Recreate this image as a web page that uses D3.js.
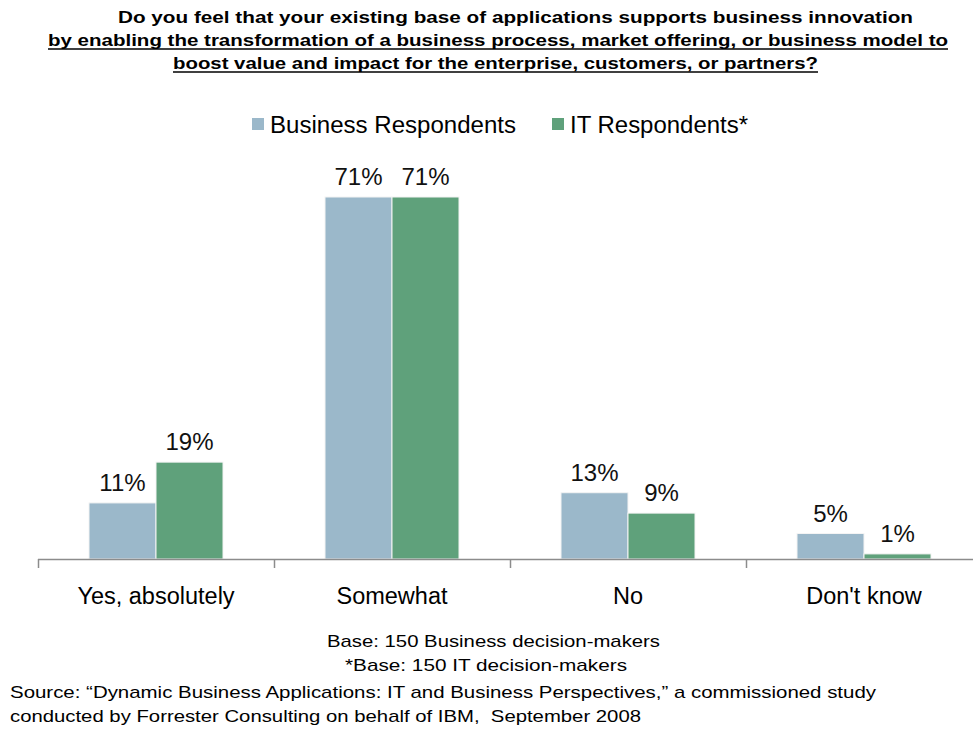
<!DOCTYPE html>
<html lang="en">
<head>
<meta charset="UTF-8">
<title>Applications supporting business innovation</title>
<script src="https://d3js.org/d3.v7.min.js"></script>
<style>
    body { margin: 0; background: #fff; }
    svg { font-family: "Liberation Sans", Arial, sans-serif; display: block; }
    .bar { stroke: #f4f4f4; stroke-width: 1; }
</style>
</head>
<body>
<svg width="973" height="730"></svg>
<script>
    // data
    const categories = ["Yes, absolutely", "Somewhat", "No", "Don't know"];
    const series = ["Business Respondents", "IT Respondents*"];
    const business = [11, 71, 13, 5];
    const it = [19, 71, 9, 1];
    const colors = ["#9bb8ca", "#5fa17b"];

    const titleLines = [
        "Do you feel that your existing base of applications supports business innovation",
        "by enabling the transformation of a business process, market offering, or business model to",
        "boost value and impact for the enterprise, customers, or partners?"
    ];
    const notes = ["Base: 150 Business decision-makers", "*Base: 150 IT decision-makers"];
    const source = [
        "Source: \u201cDynamic Business Applications: IT and Business Perspectives,\u201d a commissioned study",
        "conducted by Forrester Consulting on behalf of IBM,  September 2008"
    ];

    const svg = d3.select("svg");
    const baseY = 559;

    const x = d3.scaleBand().domain(categories).range([38, 982]).paddingInner(0).paddingOuter(0);
    const xs = d3.scaleBand().domain(series).range([0, 134]);
    const y = d3.scaleLinear().domain([0, 71]).range([baseY, 197]);

    // title
    const titleSpec = [
        {x0: 118, w: 795, y: 23, u: false},
        {x0: 48, w: 900, y: 46, u: true},
        {x0: 173, w: 645, y: 69, u: true}
    ];
    titleLines.forEach((t, i) => {
        const s = titleSpec[i];
        svg.append("text")
            .attr("x", s.x0).attr("y", s.y)
            .attr("font-size", 17).attr("font-weight", "bold")
            .attr("textLength", s.w).attr("lengthAdjust", "spacingAndGlyphs")
            .text(t);
        if (s.u) {
            svg.append("line")
                .attr("x1", s.x0).attr("x2", s.x0 + s.w)
                .attr("y1", s.y + 3).attr("y2", s.y + 3)
                .attr("stroke", "#000").attr("stroke-width", 1.5);
        }
    });

    // legend
    const legendX = [252, 552];
    const legendW = [246, 178];
    const lg = svg.append("g");
    series.forEach((s, i) => {
        lg.append("rect")
            .attr("x", legendX[i]).attr("y", 118)
            .attr("width", 12).attr("height", 12)
            .attr("fill", colors[i]);
        lg.append("text")
            .attr("x", legendX[i] + 18).attr("y", 133)
            .attr("font-size", 23.5)
            .attr("textLength", legendW[i]).attr("lengthAdjust", "spacingAndGlyphs")
            .text(s);
    });

    // bars
    const rows = categories.map((c, i) => ({cat: c, vals: [business[i], it[i]]}));
    const groups = svg.selectAll("g.group")
        .data(rows)
        .join("g").attr("class", "group")
        .attr("transform", d => `translate(${x(d.cat) + (x.bandwidth() - 134) / 2},0)`);

    groups.selectAll("rect.bar")
        .data(d => d.vals.map((v, j) => ({s: series[j], v: v, j: j})))
        .join("rect").attr("class", "bar")
        .attr("x", d => xs(d.s))
        .attr("width", xs.bandwidth())
        .attr("y", d => y(d.v))
        .attr("height", d => baseY - y(d.v))
        .attr("fill", d => colors[d.j]);

    groups.selectAll("text.val")
        .data(d => d.vals.map((v, j) => ({s: series[j], v: v})))
        .join("text").attr("class", "val")
        .attr("x", d => xs(d.s) + xs.bandwidth() / 2)
        .attr("y", d => y(d.v) - 12)
        .attr("text-anchor", "middle")
        .attr("font-size", 24)
        .attr("fill", "#111")
        .text(d => d.v + "%");

    // axis
    const axis = svg.append("g");
    axis.append("line")
        .attr("x1", 38).attr("x2", 973)
        .attr("y1", baseY + 0.5).attr("y2", baseY + 0.5)
        .attr("stroke", "#8c8c8c").attr("stroke-width", 1.5);
    axis.selectAll("line.tick")
        .data(categories)
        .join("line").attr("class", "tick")
        .attr("x1", d => x(d) + 0.5).attr("x2", d => x(d) + 0.5)
        .attr("y1", baseY).attr("y2", baseY + 9)
        .attr("stroke", "#8c8c8c").attr("stroke-width", 1.5);
    axis.selectAll("text.cat")
        .data(categories)
        .join("text").attr("class", "cat")
        .attr("x", d => x(d) + x.bandwidth() / 2)
        .attr("y", 604)
        .attr("text-anchor", "middle")
        .attr("font-size", 23.5)
        .text(d => d);

    // footnotes
    const noteSpec = [{x0: 327, w: 333, y: 647}, {x0: 345, w: 282, y: 671}];
    notes.forEach((t, i) => {
        svg.append("text")
            .attr("x", noteSpec[i].x0).attr("y", noteSpec[i].y)
            .attr("font-size", 17)
            .attr("textLength", noteSpec[i].w).attr("lengthAdjust", "spacingAndGlyphs")
            .text(t);
    });
    const srcSpec = [{w: 866, y: 698}, {w: 631, y: 722}];
    source.forEach((t, i) => {
        svg.append("text")
            .attr("x", 10).attr("y", srcSpec[i].y)
            .attr("font-size", 17)
            .attr("textLength", srcSpec[i].w).attr("lengthAdjust", "spacingAndGlyphs")
            .style("white-space", "pre")
            .text(t);
    });
</script>
</body>
</html>
